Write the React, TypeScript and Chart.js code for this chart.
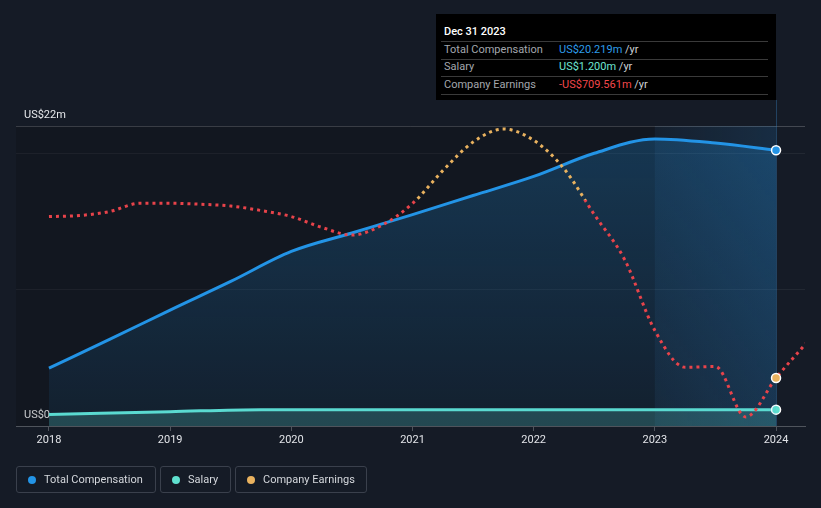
import React, { useEffect, useRef } from "react";
import { Chart, registerables } from "chart.js";

Chart.register(...registerables);

// ---- data ----
const compYears = [2018, 2018.5, 2019, 2019.5, 2020, 2020.5, 2021, 2021.5, 2022, 2022.5, 2023, 2023.5, 2024];
const compValues = [4.25, 6.35, 8.5, 10.6, 12.8, 14.15, 15.5, 16.9, 18.3, 20.0, 21.05, 20.75, 20.219];

const salaryYears = [2018, 2019, 2019.75, 2020, 2021, 2022, 2023, 2024];
const salaryValues = [0.85, 1.05, 1.2, 1.2, 1.2, 1.2, 1.2, 1.2];

const earningsYears = [
  2018, 2018.25, 2018.5, 2018.75, 2019, 2019.25, 2019.5, 2019.75,
  2020, 2020.25, 2020.5, 2020.75, 2021, 2021.25, 2021.5, 2021.75,
  2022, 2022.25, 2022.5, 2022.75, 2023, 2023.25, 2023.5, 2023.75,
  2024, 2024.25,
];
const earningsValues = [
  -66, -62, -46, -13, -13, -17, -24, -42,
  -66, -109, -140, -100, -14, 117, 231, 283,
  238, 125, -58, -237, -520, -667, -664, -865,
  -709.561, -570,
];

const xTickLabels = [2018, 2019, 2020, 2021, 2022, 2023, 2024];
const yTickValues = [0, 10, 20, 22];
const yTickLabels: Record<number, string> = { 0: "US$0", 22: "US$22m" };

const BLUE = "#2394e6";
const TEAL = "#5fe0cf";
const RED = "#e8434a";
const YELLOW = "#e9b25f";
const BG = "#151b26";

const highlightPlugin = {
  id: "highlight",
  beforeDatasetsDraw(chart: any) {
    const { ctx, chartArea, scales } = chart;
    const x23 = scales.x.getPixelForValue(2023);
    const x24 = scales.x.getPixelForValue(2024);
    ctx.save();
    ctx.fillStyle = "rgba(0,0,0,0.14)";
    ctx.fillRect(chartArea.left, chartArea.top, x23 - chartArea.left, chartArea.bottom - chartArea.top);
    const g = ctx.createLinearGradient(x23, 0, x24, 0);
    g.addColorStop(0, "rgba(40,140,220,0.05)");
    g.addColorStop(1, "rgba(40,140,220,0.16)");
    ctx.fillStyle = g;
    ctx.fillRect(x23, chartArea.top, x24 - x23, chartArea.bottom - chartArea.top);
    ctx.strokeStyle = "rgba(60,140,210,0.35)";
    ctx.lineWidth = 1;
    ctx.beginPath();
    ctx.moveTo(Math.round(x24) + 0.5, 100);
    ctx.lineTo(Math.round(x24) + 0.5, chartArea.bottom);
    ctx.stroke();
    ctx.restore();
  },
};

function earningsColor(ctx: any) {
  const chart = ctx.chart;
  const { chartArea, scales } = chart;
  if (!chartArea) return RED;
  const y0 = scales.y2.getPixelForValue(0);
  const t = Math.min(1, Math.max(0, (y0 - chartArea.top) / (chartArea.bottom - chartArea.top)));
  const g = chart.ctx.createLinearGradient(0, chartArea.top, 0, chartArea.bottom);
  g.addColorStop(0, YELLOW);
  g.addColorStop(t, YELLOW);
  g.addColorStop(t, RED);
  g.addColorStop(1, RED);
  return g;
}

function compFill(ctx: any) {
  const chart = ctx.chart;
  const { chartArea } = chart;
  if (!chartArea) return "rgba(35,150,230,0.15)";
  const g = chart.ctx.createLinearGradient(0, chartArea.top, 0, chartArea.bottom);
  g.addColorStop(0, "rgba(35,150,230,0.26)");
  g.addColorStop(1, "rgba(35,150,230,0.07)");
  return g;
}

export default function App() {
  const ref = useRef<HTMLCanvasElement>(null);

  useEffect(() => {
    if (!ref.current) return;
    const compData = compYears.map((x, i) => ({ x, y: compValues[i] }));
    const salaryData = salaryYears.map((x, i) => ({ x, y: salaryValues[i] }));
    const earnData = earningsYears.map((x, i) => ({ x, y: earningsValues[i] }));
    const earnDotIdx = earningsYears.indexOf(2024);

    const chart = new Chart(ref.current, {
      type: "line",
      data: {
        datasets: [
          {
            label: "Company Earnings",
            data: earnData,
            yAxisID: "y2",
            borderColor: earningsColor,
            borderWidth: 3,
            borderDash: [3, 4],
            borderCapStyle: "butt",
            fill: false,
            cubicInterpolationMode: "monotone",
            pointRadius: (c: any) => (c.dataIndex === earnDotIdx ? 4.5 : 0),
            pointBackgroundColor: YELLOW,
            pointBorderColor: "#ffffff",
            pointBorderWidth: 1.5,
            order: 0,
          } as any,
          {
            label: "Total Compensation",
            data: compData,
            yAxisID: "y",
            borderColor: BLUE,
            borderWidth: 3,
            backgroundColor: compFill,
            fill: "origin",
            cubicInterpolationMode: "monotone",
            pointRadius: (c: any) => (c.dataIndex === compData.length - 1 ? 4.5 : 0),
            pointBackgroundColor: BLUE,
            pointBorderColor: "#ffffff",
            pointBorderWidth: 1.5,
            order: 1,
          } as any,
          {
            label: "Salary",
            data: salaryData,
            yAxisID: "y",
            borderColor: TEAL,
            borderWidth: 3,
            backgroundColor: "rgba(95,225,205,0.22)",
            fill: "origin",
            cubicInterpolationMode: "monotone",
            pointRadius: (c: any) => (c.dataIndex === salaryData.length - 1 ? 4.5 : 0),
            pointBackgroundColor: TEAL,
            pointBorderColor: "#ffffff",
            pointBorderWidth: 1.5,
            order: 2,
          } as any,
        ],
      },
      options: {
        animation: false,
        responsive: true,
        maintainAspectRatio: false,
        layout: { padding: { left: 16, right: 16, top: 126, bottom: 52 } },
        plugins: { legend: { display: false }, tooltip: { enabled: false } },
        scales: {
          x: {
            type: "linear",
            min: 2017.728,
            max: 2024.239,
            afterBuildTicks: (axis: any) => {
              axis.ticks = xTickLabels.map((v) => ({ value: v }));
            },
            afterFit: (s: any) => {
              s.height = 30;
            },
            ticks: {
              color: "#e2e4e8",
              font: { family: "Roboto", size: 11 },
              padding: 3,
              maxRotation: 0,
              callback: (v: any) => String(v),
            },
            grid: {
              drawOnChartArea: false,
              drawTicks: true,
              tickLength: 5,
              color: "rgba(255,255,255,0.25)",
            },
            border: { display: true, color: "rgba(255,255,255,0.25)", width: 1 },
          },
          y: {
            type: "linear",
            min: 0,
            max: 22,
            afterBuildTicks: (axis: any) => {
              axis.ticks = yTickValues.map((v) => ({ value: v }));
            },
            afterFit: (s: any) => {
              s.width = 0;
            },
            ticks: {
              mirror: true,
              padding: 8,
              labelOffset: -11,
              color: "#e6e8eb",
              font: { family: "Roboto", size: 11 },
              callback: (v: any) => yTickLabels[v] ?? "",
            },
            grid: {
              drawTicks: false,
              color: (c: any) =>
                c.tick && c.tick.value === 22
                  ? "rgba(255,255,255,0.2)"
                  : c.tick && c.tick.value === 0
                  ? "rgba(0,0,0,0)"
                  : "rgba(255,255,255,0.06)",
            },
            border: { display: false },
          },
          y2: {
            type: "linear",
            display: false,
            min: -901,
            max: 295,
          },
        },
      } as any,
      plugins: [highlightPlugin],
    });
    return () => chart.destroy();
  }, []);

  const font = "Roboto, 'Noto Sans', sans-serif";
  const sepStyle = (top: number): React.CSSProperties => ({
    position: "absolute",
    left: 5,
    top,
    width: 327,
    height: 1,
    background: "#3a3a3a",
  });
  const rowLabel = (top: number, text: string) => (
    <div style={{ position: "absolute", left: 8, top, fontSize: 11, lineHeight: "14px", color: "#a3a7ad" }}>{text}</div>
  );
  const rowValue = (top: number, text: string, color: string) => (
    <div style={{ position: "absolute", left: 123, top, fontSize: 11, lineHeight: "14px", whiteSpace: "nowrap" }}>
      <span style={{ color }}>{text}</span>
      <span style={{ color: "#cfd2d6" }}> /yr</span>
    </div>
  );

  const legendItems = [
    { label: "Total Compensation", color: BLUE, width: 140 },
    { label: "Salary", color: TEAL, width: 71 },
    { label: "Company Earnings", color: YELLOW, width: 132 },
  ];

  return (
    <div
      style={{
        position: "fixed",
        left: 0,
        top: 0,
        width: 821,
        height: 508,
        background: BG,
        fontFamily: font,
        overflow: "hidden",
      }}
    >
      <canvas ref={ref} style={{ position: "absolute", left: 0, top: 0, width: 821, height: 508 }} />
      <div
        style={{
          position: "absolute",
          left: 436,
          top: 14,
          width: 340,
          height: 86,
          background: "#000000",
        }}
      >
        <div style={{ position: "absolute", left: 8, top: 10.5, fontSize: 11, lineHeight: "14px", color: "#ffffff", fontWeight: 500 }}>
          Dec 31 2023
        </div>
        <div style={sepStyle(27)} />
        {rowLabel(28.5, "Total Compensation")}
        {rowValue(28.5, "US$20.219m", "#2d9cea")}
        <div style={sepStyle(44.5)} />
        {rowLabel(46, "Salary")}
        {rowValue(46, "US$1.200m", "#6ee6d2")}
        <div style={sepStyle(62)} />
        {rowLabel(63.5, "Company Earnings")}
        {rowValue(63.5, "-US$709.561m", "#f2474b")}
        <div style={sepStyle(79.5)} />
      </div>
      <div style={{ position: "absolute", left: 16, top: 466, display: "flex", gap: 4 }}>
        {legendItems.map((it) => (
          <div
            key={it.label}
            style={{
              boxSizing: "border-box",
              width: it.width,
              height: 27,
              border: "1px solid #3a404c",
              borderRadius: 3,
              display: "flex",
              alignItems: "center",
              paddingLeft: 11,
              whiteSpace: "nowrap",
            }}
          >
            <span
              style={{
                display: "inline-block",
                width: 8,
                height: 8,
                borderRadius: "50%",
                background: it.color,
                marginRight: 8,
              }}
            />
            <span style={{ fontSize: 11, color: "#d4d7dc" }}>{it.label}</span>
          </div>
        ))}
      </div>
    </div>
  );
}
